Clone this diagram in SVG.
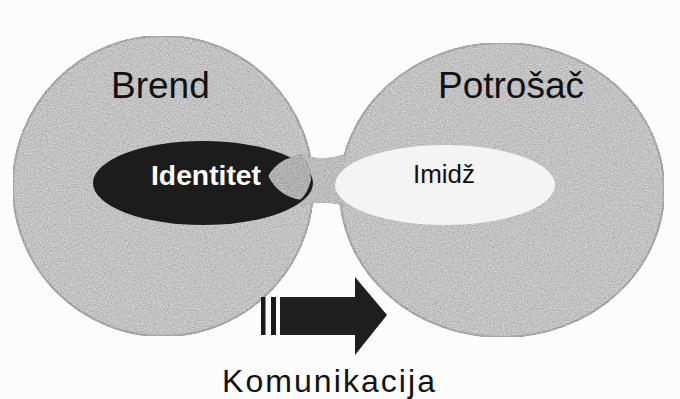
<svg xmlns="http://www.w3.org/2000/svg" width="680" height="399" viewBox="0 0 680 399">
<style>
.lbl{font-family:"Liberation Sans",Arial,sans-serif;fill:#111}
</style>
<defs>
<filter id="grain" x="0" y="0" width="100%" height="100%" color-interpolation-filters="sRGB">
<feTurbulence type="fractalNoise" baseFrequency="0.7" numOctaves="2" seed="4" result="n"/>
<feColorMatrix in="n" type="matrix" values="0.33 0.33 0.33 0 0  0.33 0.33 0.33 0 0  0.33 0.33 0.33 0 0  0 0 0 0 1" result="g"/>
<feComposite in="SourceGraphic" in2="g" operator="arithmetic" k1="0" k2="1" k3="0.5" k4="-0.25" result="c"/>
<feComposite in="c" in2="SourceGraphic" operator="in"/>
</filter>
</defs>
<rect width="680" height="399" fill="#fcfcfc"/>
<g id="brend" filter="url(#grain)">
<ellipse cx="163" cy="186" rx="150" ry="150" fill="#c2c2c2" stroke="#a8a8a8" stroke-width="2"/>
</g>
<g id="potrosac" filter="url(#grain)">
<ellipse cx="502" cy="190" rx="162" ry="147" fill="#c2c2c2" stroke="#a8a8a8" stroke-width="2"/>
</g>
<g id="connectors">
<path d="M300,154 Q322,162 345,154 L345,206 Q322,199 300,206 Z" fill="#bcbcbc" filter="url(#grain)"/>
</g>
<g id="identitet">
<ellipse cx="203" cy="183" rx="110" ry="42" fill="#1c1c1c"/>
<path d="M268,176 Q278,158 301,155 Q312,168 311,180 Q308,194 300,200 Q278,196 268,176 Z" fill="#b0b0b0" filter="url(#grain)"/>
<text x="206" y="185" text-anchor="middle" font-family="'Liberation Sans',Arial,sans-serif" font-weight="bold" font-size="27" fill="#ffffff" textLength="110" lengthAdjust="spacingAndGlyphs">Identitet</text>
</g>
<g id="imidz">
<ellipse cx="445" cy="185" rx="110" ry="40" fill="#f4f4f4"/>
<text x="444" y="183" text-anchor="middle" class="lbl" font-size="26" textLength="62" lengthAdjust="spacingAndGlyphs">Imidž</text>
</g>
<text x="111" y="98" class="lbl" font-size="37">Brend</text>
<text x="438" y="98" class="lbl" font-size="37">Potrošač</text>
<g id="komunikacija">
<rect x="261" y="297" width="4.5" height="38" fill="#1a1a1a"/>
<rect x="271" y="297" width="5" height="38" fill="#1a1a1a"/>
<path d="M280,297 L355,297 L355,277 L387,315 L355,355 L355,335 L280,335 Z" fill="#1e1e1e"/>
<text x="222" y="392" class="lbl" font-size="32" textLength="213" lengthAdjust="spacing">Komunikacija</text>
</g>
</svg>
